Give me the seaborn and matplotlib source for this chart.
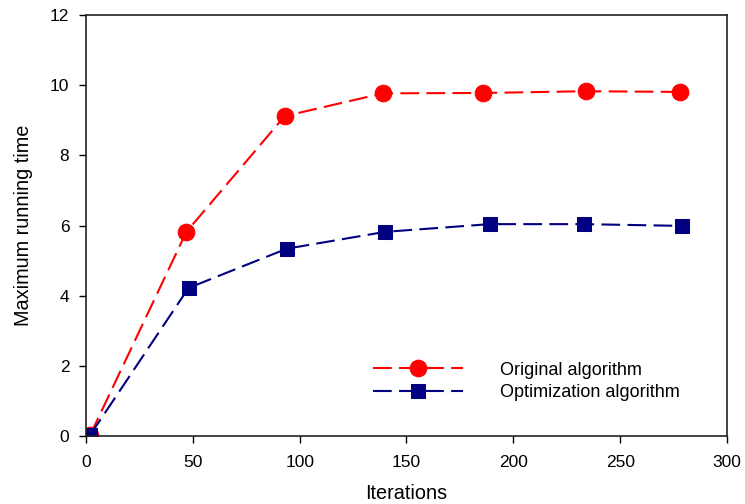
import matplotlib
matplotlib.use("Agg")
import matplotlib.pyplot as plt
import seaborn as sns
import pandas as pd

orig_x = [2, 47, 93, 139, 186, 234, 278]
orig_y = [0.03, 5.82, 9.12, 9.77, 9.78, 9.83, 9.81]
opt_x = [2, 48, 94, 140, 189, 233, 279]
opt_y = [0.03, 4.22, 5.34, 5.82, 6.04, 6.04, 5.99]
labels = ["Original algorithm", "Optimization algorithm"]

sns.set_style("ticks")
plt.rcParams["font.family"] = ["Liberation Sans", "DejaVu Sans"]
plt.rcParams["text.color"] = "black"
plt.rcParams["axes.labelcolor"] = "black"
plt.rcParams["xtick.color"] = "black"
plt.rcParams["ytick.color"] = "black"

fig = plt.figure(figsize=(7.45, 5.04), dpi=100)
ax = fig.add_axes([0.1154, 0.135, 0.8604, 0.835])

dash = (0, (9, 3.5))
sns.lineplot(x=orig_x, y=orig_y, ax=ax, color="#ff0000", marker="o", markersize=12,
             markeredgecolor="#ff0000", linewidth=1.5, linestyle=dash, label=labels[0])
sns.lineplot(x=opt_x, y=opt_y, ax=ax, color="#000080", marker="s", markersize=10,
             markeredgecolor="#000080", linewidth=1.5, linestyle=dash, label=labels[1])

ax.set_xlim(0, 300)
ax.set_ylim(0, 12)
ax.set_xticks([0, 50, 100, 150, 200, 250, 300])
ax.set_yticks([0, 2, 4, 6, 8, 10, 12])
ax.tick_params(axis="both", labelsize=12.5, length=5, width=1)
ax.tick_params(axis="x", pad=9)
ax.tick_params(axis="y", pad=7)
for s in ax.spines.values():
    s.set_linewidth(1.2)
    s.set_color("#222222")
ax.set_xlabel("Iterations", fontsize=14.3, labelpad=10)
ax.set_ylabel("Maximum running time", fontsize=14.3, labelpad=12)

leg = ax.legend(loc="center left", bbox_to_anchor=(0.448, 0.13), frameon=False,
                handlelength=5.0, handletextpad=2.0, labelspacing=0.3,
                borderpad=0, borderaxespad=0, fontsize=13)

fig.savefig("out.png", dpi=100)
